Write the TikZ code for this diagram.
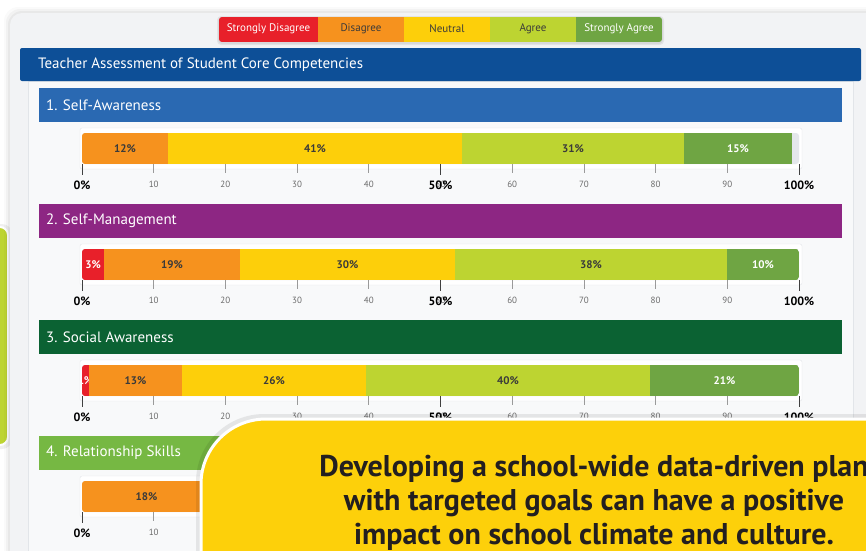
\documentclass[tikz,border=0pt]{standalone}
\usepackage{fontspec}
\setmainfont{PT Sans}
\definecolor{cRed}{HTML}{E8202A}
\definecolor{cOr}{HTML}{F6921E}
\definecolor{cYe}{HTML}{FDCF0A}
\definecolor{cYg}{HTML}{BDD431}
\definecolor{cGr}{HTML}{6FA543}
\definecolor{cHead}{HTML}{0D4F97}
\definecolor{cSa}{HTML}{2A69B2}
\definecolor{cSb}{HTML}{8D2683}
\definecolor{cSc}{HTML}{0B6233}
\definecolor{cSd}{HTML}{76B843}
\definecolor{cCard}{HTML}{F2F3F5}
\definecolor{cPanel}{HTML}{F8F9FA}
\definecolor{cLine}{HTML}{E2E5E9}
\definecolor{cTrack}{HTML}{E4E7EB}
\definecolor{cTx}{HTML}{3A3A3A}
\definecolor{cTick}{HTML}{9A9A9A}
\definecolor{cTickTx}{HTML}{6A6A6A}
\definecolor{cCall}{HTML}{FDD00A}
\definecolor{cCallTx}{HTML}{231F20}
\newcommand\chartrow[3]{%
\begin{scope}[yshift=-#1pt]
 \node[draw=cLine, fill=white, rounded corners=2pt, minimum width=722pt, minimum height=41pt, inner sep=0pt] (#3box) at (441,148.5) {};
 \node[fill=cTrack, rounded corners=3pt, minimum width=717pt, minimum height=31pt, inner sep=0pt] (#3track) at (440.5,148.5) {};
 \begin{scope}
  \clip[rounded corners=3pt] (82,133) rectangle (799,164);
  \foreach \pa/\pb/\col/\lab/\tcol [count=\i] in {#2} {
    \fill[\col] (\pa,133) rectangle (\pb,164);
    \begin{scope}
     \clip (\pa,133) rectangle (\pb,164);
     \node[seglabel,text=\tcol] (#3seg\i) at ({(\pa+\pb)/2},148.5) {\lab};
    \end{scope}
  }
 \end{scope}
 \foreach \v in {10,20,...,90} {
   \draw[cTick, line width=0.8pt] ({82+7.17*\v},164) -- ({82+7.17*\v},173);
   \node[ticklabel] (#3t\v) at ({82+7.17*\v},184) {\v};
 }
 \foreach \v in {0,50,100} {
   \draw[black!75, line width=1pt] ({82+7.17*\v},164) -- ({82+7.17*\v},175);
   \node[majlabel] (#3m\v) at ({82+7.17*\v},185.5) {\v\%};
 }
\end{scope}}
\begin{document}
\begin{tikzpicture}[x=1pt,y=-1pt,
  seclabel/.style={anchor=west,text=white,font=\fontsize{15}{17}\selectfont,inner sep=0pt},
  seglabel/.style={font=\bfseries\fontsize{11}{12}\selectfont,inner sep=0pt},
  ticklabel/.style={font=\fontsize{9}{10}\selectfont,text=cTickTx,inner sep=0pt},
  majlabel/.style={font=\bfseries\fontsize{12}{13}\selectfont,text=black,inner sep=0pt},
  legendlabel/.style={font=\fontsize{11}{12}\selectfont,inner sep=0pt},
  calltext/.style={font=\bfseries\fontsize{30}{34}\selectfont,text=cCallTx,anchor=base,inner sep=0pt},
]
\useasboundingbox (0,0) rectangle (866,550);
\clip (0,0) rectangle (866,550);
\fill[white] (0,0) rectangle (866,550);
% left green panel
\fill[black, opacity=0.06, rounded corners=10pt] (-20,224) rectangle (12,449);
\filldraw[fill=cYg, draw=white, line width=2pt, rounded corners=8pt] (-20,227) rectangle (8,445);
% card with soft shadow
\foreach \s/\o in {6/0.02,4/0.03,2/0.04} {
  \fill[black, opacity=\o, rounded corners=14pt] (10-\s,13-\s) rectangle (880+\s,600);
}
\fill[cCard, rounded corners=12pt] (10,13) rectangle (880,600);
% inner panel
\filldraw[fill=cPanel, draw=cLine] (28,81) rectangle (853,600);
% header
\fill[cHead, rounded corners=2pt] (20,48) rectangle (861,81);
\node[anchor=west, text=white, font=\fontsize{15}{17}\selectfont, inner sep=0pt] (title) at (38,64.5) {Teacher Assessment of Student Core Competencies};
% legend
\fill[black, opacity=0.06, rounded corners=4pt] (217,16) rectangle (664,45);
\fill[black, opacity=0.05, rounded corners=4pt] (218,17) rectangle (663,44);
\begin{scope}
 \clip[rounded corners=3pt] (219,17) rectangle (662,42);
 \foreach \pa/\pb/\col/\lab/\tcol [count=\i] in {219/318/cRed/Strongly Disagree/white, 318/404/cOr/Disagree/cTx, 404/490/cYe/Neutral/cTx, 490/576/cYg/Agree/cTx, 576/662/cGr/Strongly Agree/white} {
   \fill[\col] (\pa,17) rectangle (\pb,42);
   \node[legendlabel, text=\tcol] (leg\i) at ({(\pa+\pb)/2},29) {\lab};
 }
\end{scope}
% sections
\fill[cSa] (39,88) rectangle (842,122);
\node[seclabel] (sec1) at (46,105) {1. Self-Awareness};
\chartrow{0}{82/168/cOr/12\%/cTx, 168/462/cYe/41\%/cTx, 462/684/cYg/31\%/cTx, 684/792/cGr/15\%/white}{ra}
\fill[cSb] (39,204) rectangle (842,238);
\node[seclabel] (sec2) at (46,221) {2. Self-Management};
\chartrow{116}{82/104/cRed/3\%/white, 104/240/cOr/19\%/cTx, 240/455/cYe/30\%/cTx, 455/727/cYg/38\%/cTx, 727/799/cGr/10\%/white}{rb}
\fill[cSc] (39,320) rectangle (842,354);
\node[seclabel] (sec3) at (46,337) {3. Social Awareness};
\chartrow{232}{82/89/cRed/1\%/white, 89/182/cOr/13\%/cTx, 182/366/cYe/26\%/cTx, 366/650/cYg/40\%/cTx, 650/799/cGr/21\%/white}{rc}
\fill[cSd] (39,436) rectangle (842,470);
\node[seclabel] (sec4) at (46,453) {4. Relationship Skills};
\chartrow{348}{82/211/cOr/18\%/cTx}{rd}
% callout
\fill[black, opacity=0.08, rounded corners=68pt] (196,414) rectangle (1000,700);
\filldraw[fill=cCall, draw=white, line width=3pt, rounded corners=65pt] (201,419) rectangle (1000,700);
\node[calltext] (call1) at (594,476) {Developing a school-wide data-driven plan};
\node[calltext] (call2) at (594,510) {with targeted goals can have a positive};
\node[calltext] (call3) at (594,544) {impact on school climate and culture.};
\end{tikzpicture}
\end{document}
